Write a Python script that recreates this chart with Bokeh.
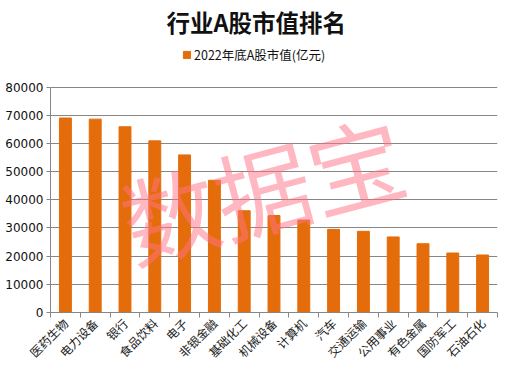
import math
from bokeh.plotting import figure
from bokeh.models import (ColumnDataSource, FixedTicker, Range1d, Legend, LegendItem, Label, Title)
from bokeh.embed import file_html
from bokeh.resources import INLINE

categories = ["医药生物", "电力设备", "银行", "食品饮料", "电子", "非银金融", "基础化工",
              "机械设备", "计算机", "汽车", "交通运输", "公用事业", "有色金属", "国防军工", "石油石化"]
values = [69000, 68600, 65900, 60900, 55900, 46900, 36100, 34400, 32800, 29500, 28800,
          26800, 24400, 21100, 20400]
series_name = "2022年底A股市值(亿元)"
y_ticks = [0, 10000, 20000, 30000, 40000, 50000, 60000, 70000, 80000]

n = len(categories)
centers = [i + 0.5 for i in range(n)]
src = ColumnDataSource(dict(x=centers, top=values))

p = figure(width=503, height=369, output_backend="svg", toolbar_location=None,
           x_range=Range1d(0, n), y_range=Range1d(0, 96500),
           min_border_left=50, min_border_right=6, min_border_bottom=0, min_border_top=32)
p.outline_line_color = None
p.background_fill_color = "white"

r = p.vbar(x="x", top="top", width=0.4, source=src, color="#E46C0A")

p.title = Title(text="行业A股市值排名", align="left", text_font="Noto Sans CJK SC",
                text_font_size="23.5px", text_font_style="bold", text_color="#111111",
                offset=116, standoff=4)

legend = Legend(items=[LegendItem(label=series_name, renderers=[r])],
                orientation="horizontal", location=(132, 248),
                label_text_font="Noto Sans CJK SC", label_text_font_size="12.5px",
                label_text_color="#111111", glyph_width=9, glyph_height=9,
                label_standoff=3, border_line_color=None, padding=0, margin=0,
                background_fill_alpha=0)
p.add_layout(legend)

# y axis
p.yaxis.ticker = FixedTicker(ticks=y_ticks)
p.yaxis.bounds = (y_ticks[0], y_ticks[-1])
p.yaxis.major_label_text_font = "DejaVu Sans"
p.yaxis.major_label_text_font_size = "12px"
p.yaxis.major_label_text_color = "#111111"
p.yaxis.axis_line_color = "#868686"
p.yaxis.major_tick_line_color = "#868686"
p.yaxis.major_tick_out = 4
p.yaxis.major_tick_in = 0
p.yaxis.major_label_standoff = 3
p.yaxis.minor_tick_line_color = None
p.ygrid.ticker = FixedTicker(ticks=y_ticks)
p.ygrid.grid_line_color = "#868686"
p.ygrid.grid_line_width = 1
p.xgrid.grid_line_color = None

# x axis
p.xaxis.ticker = FixedTicker(ticks=centers, minor_ticks=list(range(n + 1)))
p.xaxis.major_label_overrides = {c: lab for c, lab in zip(centers, categories)}
p.xaxis.major_tick_line_color = None
p.xaxis.minor_tick_line_color = "#868686"
p.xaxis.minor_tick_out = 5
p.xaxis.minor_tick_in = 0
p.xaxis.axis_line_color = "#868686"
p.xaxis.major_label_orientation = math.pi / 4
p.xaxis.major_label_text_font = "Noto Sans CJK SC"
p.xaxis.major_label_text_font_size = "12px"
p.xaxis.major_label_text_color = "#222222"
p.xaxis.major_label_standoff = 2

# watermark
wm = Label(x=7.1, y=44500, text="数据宝", text_align="center", text_baseline="middle",
           angle=0.26, text_font="Noto Sans CJK SC", text_font_size="96px",
           text_color="#FF7185", text_alpha=0.5)
p.add_layout(wm)

open("out.html", "w").write(file_html(p, INLINE))
